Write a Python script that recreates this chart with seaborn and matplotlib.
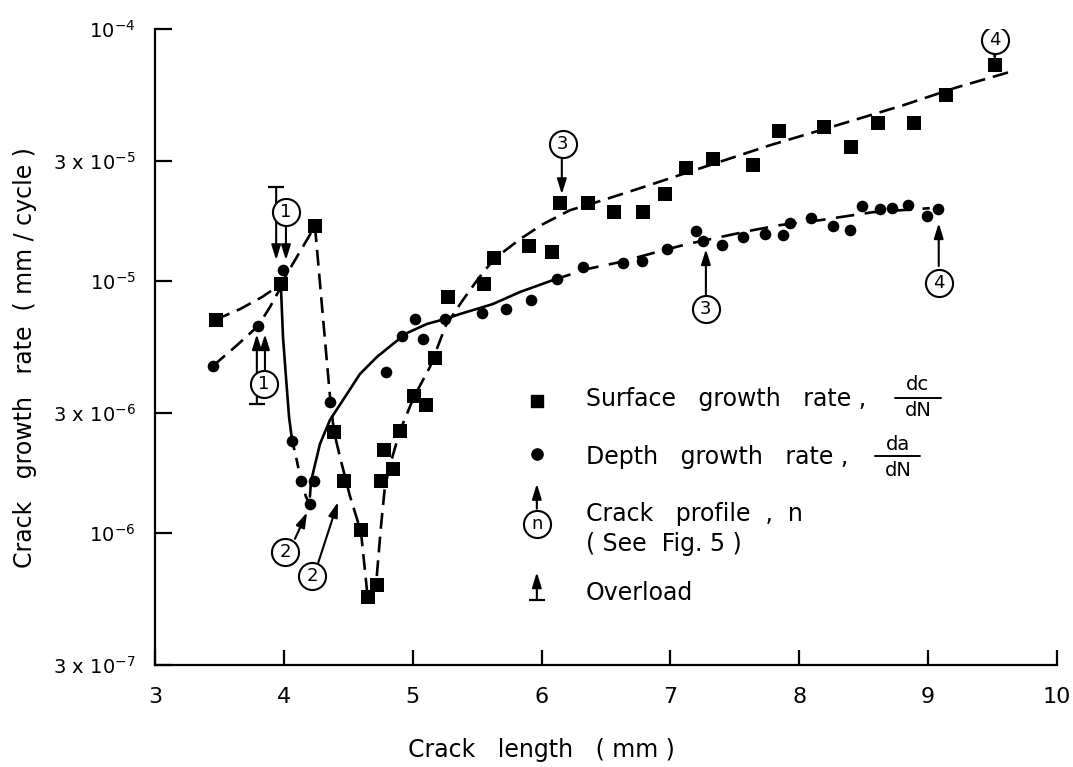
import matplotlib
matplotlib.use("Agg")
import matplotlib.pyplot as plt
from matplotlib.ticker import NullLocator, FixedLocator
import seaborn as sns

# ----------------------------------------------------------------------
# data
# ----------------------------------------------------------------------
# surface growth rate dc/dN (squares)
surf_x = [3.47, 3.98, 4.24, 4.39, 4.47, 4.60, 4.65, 4.72, 4.75, 4.78,
          4.85, 4.90, 5.01, 5.10, 5.17, 5.27, 5.55, 5.63, 5.90, 6.08,
          6.14, 6.36, 6.56, 6.79, 6.96, 7.12, 7.33, 7.64, 7.84, 8.19,
          8.40, 8.61, 8.89, 9.14, 9.52]
surf_y = [7.0e-6, 9.7e-6, 1.65e-5, 2.52e-6, 1.61e-6, 1.03e-6, 5.6e-7, 6.25e-7, 1.61e-6, 2.14e-6,
          1.80e-6, 2.55e-6, 3.5e-6, 3.23e-6, 4.96e-6, 8.65e-6, 9.7e-6, 1.24e-5, 1.376e-5, 1.31e-5,
          2.04e-5, 2.04e-5, 1.88e-5, 1.88e-5, 2.21e-5, 2.8e-5, 3.04e-5, 2.88e-5, 3.93e-5, 4.07e-5,
          3.4e-5, 4.22e-5, 4.22e-5, 5.45e-5, 7.17e-5]

# depth growth rate da/dN (dots)
depth_x = [3.45, 3.80, 3.99, 4.06, 4.13, 4.20, 4.23, 4.36, 4.79, 4.92,
           5.02, 5.08, 5.25, 5.54, 5.72, 5.92, 6.12, 6.32, 6.63, 6.78,
           6.97, 7.20, 7.25, 7.40, 7.56, 7.73, 7.87, 7.93, 8.09, 8.26,
           8.39, 8.49, 8.63, 8.72, 8.84, 8.99, 9.08]
depth_y = [4.6e-6, 6.63e-6, 1.105e-5, 2.32e-6, 1.61e-6, 1.30e-6, 1.61e-6, 3.32e-6, 4.36e-6, 6.06e-6,
           7.07e-6, 5.89e-6, 7.07e-6, 7.47e-6, 7.75e-6, 8.4e-6, 1.02e-5, 1.136e-5, 1.18e-5, 1.2e-5,
           1.34e-5, 1.58e-5, 1.44e-5, 1.39e-5, 1.49e-5, 1.535e-5, 1.52e-5, 1.7e-5, 1.78e-5, 1.65e-5,
           1.59e-5, 1.98e-5, 1.93e-5, 1.95e-5, 2.0e-5, 1.81e-5, 1.93e-5]

# hand drawn trend line through the squares (dashed)
surf_curve_x = [3.465, 3.659, 3.830, 3.977, 4.109, 4.241, 4.303, 4.358, 4.389, 4.435,
                4.513, 4.598, 4.652, 4.714, 4.753, 4.784, 4.831, 4.901, 5.009, 5.133,
                5.258, 5.389, 5.506, 5.630, 5.832, 6.010, 6.220, 6.476, 6.739, 7.019,
                7.771, 8.291, 8.803, 9.222, 9.649]
surf_curve_y = [7.01e-6, 7.74e-6, 8.64e-6, 9.73e-6, 1.268e-5, 1.651e-5, 7.2e-6, 3.47e-6, 2.52e-6, 2.01e-6,
                1.40e-6, 1.014e-6, 5.46e-7, 6.14e-7, 1.06e-6, 1.53e-6, 1.92e-6, 2.55e-6, 3.47e-6, 4.56e-6,
                6.69e-6, 8.41e-6, 1.018e-5, 1.222e-5, 1.466e-5, 1.682e-5, 1.91e-5, 2.094e-5, 2.314e-5, 2.58e-5,
                3.456e-5, 4.148e-5, 4.977e-5, 5.866e-5, 6.79e-5]

# hand drawn trend line through the dots, in pieces (style changes along it)
depth_left_x = [3.450, 3.621, 3.799, 3.892, 3.977]
depth_left_y = [4.61e-6, 5.48e-6, 6.63e-6, 7.89e-6, 9.47e-6]
depth_drop_x = [3.977, 3.993, 4.016, 4.040, 4.063]
depth_drop_y = [9.47e-6, 6.0e-6, 4.17e-6, 2.89e-6, 2.345e-6]
depth_min_x = [4.063, 4.094, 4.133, 4.171, 4.202]
depth_min_y = [2.345e-6, 2.01e-6, 1.614e-6, 1.396e-6, 1.297e-6]
depth_rise_x = [4.202, 4.210, 4.241, 4.280, 4.358, 4.490, 4.590, 4.722, 4.846, 4.955,
                5.110, 5.250, 5.366, 5.622, 5.832, 6.088]
depth_rise_y = [1.396e-6, 1.6e-6, 1.867e-6, 2.26e-6, 2.815e-6, 3.57e-6, 4.28e-6, 5.0e-6, 5.63e-6, 6.22e-6,
                6.76e-6, 7.07e-6, 7.4e-6, 8.11e-6, 9.05e-6, 1.009e-5]
depth_tail_x = [6.088, 6.351, 6.607, 6.863, 7.127, 7.383, 7.639, 7.849, 8.159, 8.570, 9.012]
depth_tail_y = [1.009e-5, 1.116e-5, 1.189e-5, 1.291e-5, 1.401e-5, 1.494e-5, 1.592e-5, 1.667e-5,
                1.744e-5, 1.876e-5, 1.946e-5]

# crack profile markers: circled number, arrow start and tip
prof_label = ["1", "1", "2", "2", "3", "3", "4", "4"]
prof_cx = [4.016, 3.846, 4.008, 4.218, 6.165, 7.275, 9.517, 9.082]
prof_cy = [1.88e-5, 3.9e-6, 8.4e-7, 6.76e-7, 3.49e-5, 7.74e-6, 9.08e-5, 9.8e-6]
prof_ax0 = [4.016, 3.853, 4.086, 4.265, 6.157, 7.275, 9.517, 9.082]
prof_ay0 = [1.67e-5, 4.4e-6, 9.5e-7, 7.6e-7, 3.07e-5, 8.8e-6, 8.3e-5, 1.147e-5]
prof_ax1 = [4.016, 3.853, 4.180, 4.420, 6.157, 7.275, 9.517, 9.082]
prof_ay1 = [1.21e-5, 6.16e-6, 1.21e-6, 1.33e-6, 2.21e-5, 1.339e-5, 7.5e-5, 1.698e-5]

# overloads: x, tail (with bar) and tip
over_x = [3.94, 3.79]
over_tail = [2.36e-5, 3.26e-6]
over_tip = [1.21e-5, 6.16e-6]

xticks = [3, 4, 5, 6, 7, 8, 9, 10]
yticks = [3e-7, 1e-6, 3e-6, 1e-5, 3e-5, 1e-4]
ytick_labels = [r"$\mathregular{3\ x\ 10^{-7}}$", r"$\mathregular{10^{-6}}$",
                r"$\mathregular{3\ x\ 10^{-6}}$", r"$\mathregular{10^{-5}}$",
                r"$\mathregular{3\ x\ 10^{-5}}$", r"$\mathregular{10^{-4}}$"]

# legend entries (text, y) and fractions (numerator, denominator, x range, y levels)
leg_text = ["Surface   growth   rate ,", "Depth   growth   rate ,",
            "Crack   profile  ,  n", "( See  Fig. 5 )", "Overload"]
leg_text_y = [3.40e-6, 2.0e-6, 1.19e-6, 9.1e-7, 5.78e-7]
frac_num = ["dc", "da"]
frac_den = ["dN", "dN"]
frac_x0 = [8.74, 8.59]
frac_x1 = [9.10, 8.94]
frac_line_y = [3.45e-6, 2.02e-6]
frac_num_y = [3.90e-6, 2.24e-6]
frac_den_y = [3.08e-6, 1.78e-6]

# ----------------------------------------------------------------------
# plot
# ----------------------------------------------------------------------
sns.set_style("ticks")
plt.rcParams["font.family"] = ["DejaVu Sans"]
plt.rcParams["text.color"] = "k"
plt.rcParams["axes.labelcolor"] = "k"

fig = plt.figure(figsize=(10.73, 7.67), dpi=100)
ax = fig.add_axes([0.1445, 0.133, 0.8406, 0.8292])
ax.set_yscale("log")

LW = 1.9
DASH = (6, 3)

sns.lineplot(x=surf_curve_x, y=surf_curve_y, sort=False, estimator=None, ax=ax,
             color="k", lw=LW, linestyle=(0, DASH))
sns.lineplot(x=depth_left_x, y=depth_left_y, sort=False, estimator=None, ax=ax,
             color="k", lw=LW, linestyle=(0, DASH))
sns.lineplot(x=depth_drop_x, y=depth_drop_y, sort=False, estimator=None, ax=ax,
             color="k", lw=LW)
sns.lineplot(x=depth_min_x, y=depth_min_y, sort=False, estimator=None, ax=ax,
             color="k", lw=LW, linestyle=(0, (4, 3)))
sns.lineplot(x=depth_rise_x, y=depth_rise_y, sort=False, estimator=None, ax=ax,
             color="k", lw=LW)
sns.lineplot(x=depth_tail_x, y=depth_tail_y, sort=False, estimator=None, ax=ax,
             color="k", lw=LW, linestyle=(0, (7, 4)))

sns.scatterplot(x=surf_x, y=surf_y, marker="s", s=95, color="k", linewidth=0, ax=ax, zorder=4)
sns.scatterplot(x=depth_x, y=depth_y, marker="o", s=70, color="k", linewidth=0, ax=ax, zorder=4)

arrow_kw = dict(arrowstyle="-|>,head_length=0.9,head_width=0.28", color="k", lw=1.5,
                shrinkA=0, shrinkB=0)

# overload arrows with a bar at the tail
for x, t0, t1 in zip(over_x, over_tail, over_tip):
    ax.annotate("", xy=(x, t1), xytext=(x, t0), arrowprops=arrow_kw, zorder=3)
    ax.plot([x], [t0], marker="_", ms=12, mew=1.6, color="k", zorder=3)

# crack profile arrows and circled numbers
for lab, cx, cy, x0, y0, x1, y1 in zip(prof_label, prof_cx, prof_cy,
                                       prof_ax0, prof_ay0, prof_ax1, prof_ay1):
    ax.annotate("", xy=(x1, y1), xytext=(x0, y0), arrowprops=arrow_kw, zorder=3)
    ax.scatter([cx], [cy], s=380, facecolor="white", edgecolor="k", linewidth=1.5, zorder=5)
    ax.text(cx, cy, lab, ha="center", va="center", fontsize=13, zorder=6)

# hand made legend
leg_mx = 5.963
txt_x = 6.344
ax.scatter([leg_mx], [3.35e-6], marker="s", s=80, color="k", zorder=4)
ax.scatter([leg_mx], [2.07e-6], marker="o", s=65, color="k", zorder=4)
ax.annotate("", xy=(leg_mx, 1.57e-6), xytext=(leg_mx, 1.25e-6), arrowprops=arrow_kw)
ax.scatter([leg_mx], [1.09e-6], s=380, facecolor="white", edgecolor="k", linewidth=1.5, zorder=5)
ax.text(leg_mx, 1.09e-6, "n", ha="center", va="center", fontsize=13, zorder=6)
ax.annotate("", xy=(leg_mx, 7.0e-7), xytext=(leg_mx, 5.43e-7), arrowprops=arrow_kw)
ax.plot([leg_mx], [5.43e-7], marker="_", ms=11, mew=1.6, color="k")

for t, ty in zip(leg_text, leg_text_y):
    ax.text(txt_x, ty, t, fontsize=17, va="center", ha="left")
for num, den, x0, x1, ly, ny, dy in zip(frac_num, frac_den, frac_x0, frac_x1,
                                        frac_line_y, frac_num_y, frac_den_y):
    ax.plot([x0, x1], [ly, ly], color="k", lw=1.4)
    ax.text((x0 + x1) / 2, ny, num, fontsize=14, ha="center", va="center")
    ax.text((x0 + x1) / 2, dy, den, fontsize=14, ha="center", va="center")

# ----------------------------------------------------------------------
# axes
# ----------------------------------------------------------------------
ax.set_xlim(3, 10)
ax.set_ylim(3e-7, 1e-4)
ax.xaxis.set_major_locator(FixedLocator(xticks))
ax.set_xticklabels([str(t) for t in xticks])
ax.yaxis.set_major_locator(FixedLocator(yticks))
ax.yaxis.set_minor_locator(NullLocator())
ax.set_yticklabels(ytick_labels)

sns.despine(ax=ax)
for side in ["left", "bottom"]:
    ax.spines[side].set_linewidth(1.6)
    ax.spines[side].set_color("k")

ax.tick_params(axis="y", direction="in", length=12, width=1.6, labelsize=14, pad=14, colors="k")
ax.tick_params(axis="x", direction="in", length=11, width=1.6, labelsize=16, pad=16, colors="k")

ax.set_xlabel("Crack   length   ( mm )", fontsize=17, labelpad=22, x=0.428)
ax.set_ylabel("Crack   growth   rate  ( mm / cycle )", fontsize=17, labelpad=11, y=0.484)

fig.savefig("out.png", dpi=100)
